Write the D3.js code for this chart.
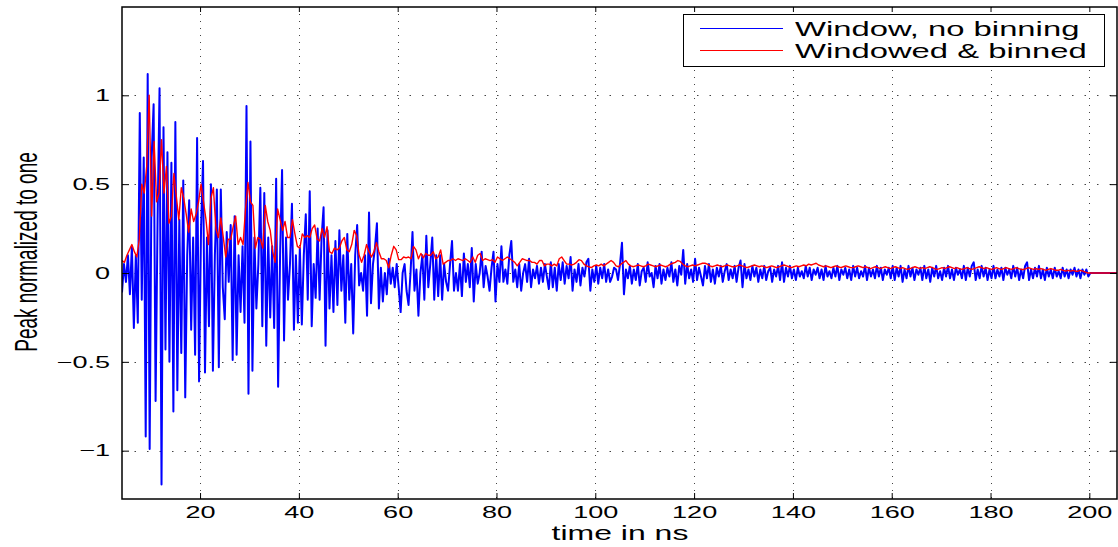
<!DOCTYPE html>
<html>
<head>
<meta charset="utf-8">
<script src="https://cdn.jsdelivr.net/npm/d3@7"></script>
<style>
  body { margin: 0; background: #fff; }
  svg { display: block; }
</style>
</head>
<body>
<div id="chart"></div>
<script>
// signal sampled every 0.4 ns (raw) and 0.5 ns (binned), both starting at 4.2 ns
var blueStart = 4.2, blueStep = 0.4;
var blueValues = [
  -0.11, 0.05, -0.05, 0.1, -0.12, 0.15, -0.31, 0.1, -0.28, 0.9,
  -0.15, 0.65, -0.92, 1.12, -0.99, 0.65, 0.95, -0.72, 0.3, 1.04,
  -1.19, 0.82, -0.43, 0.68, -0.5, 0.62, -0.78, 0.85, -0.66, 0.3,
  -0.45, 0.52, -0.7, 0.1, 0.41, -0.32, 0.2, -0.46, 0.76, -0.61,
  0.25, 0.63, -0.56, 0.2, -0.3, 0.5, -0.55, 0.1, 0.47, -0.53,
  0.47, -0.08, -0.26, 0.23, -0.05, 0.27, -0.49, 0.32, -0.46, 0.1,
  -0.22, 0.15, -0.28, 0.94, -0.68, 0.74, -0.55, 0.2, -0.2, 0.05,
  0.48, -0.3, 0.45, -0.41, 0.2, -0.25, 0.15, -0.31, 0.53, -0.64,
  0.1, 0.58, -0.38, 0.2, -0.15, 0.05, 0.39, -0.32, 0.1, -0.28,
  0.14, -0.29, 0.1, 0.33, -0.15, 0.46, -0.3, 0.05, -0.14, 0.25,
  -0.15, 0.2, 0.37, -0.41, 0.24, -0.2, 0.1, -0.22, 0.18, -0.18,
  0.24, -0.1, 0.1, -0.28, 0.22, -0.15, 0.05, -0.34, 0.1, 0.27,
  -0.07, 0.0, -0.1, 0.1, -0.24, 0.34, -0.17, 0.05, 0.14, 0.28,
  -0.2, 0.03, -0.16, 0.0, -0.12, 0.08, -0.06, 0.03, -0.08, 0.05,
  -0.08, -0.22, 0.0, 0.05, -0.1, -0.18, 0.0, 0.23, -0.1, 0.02,
  -0.24, 0.0, 0.1, -0.15, 0.21, -0.08, 0.05, 0.2, -0.15, 0.1,
  -0.13, 0.1, -0.15, 0.05, -0.05, -0.1, 0.05, 0.18, -0.1, 0.0,
  -0.1, 0.05, -0.13, 0.11, -0.05, 0.05, -0.08, 0.14, -0.16, 0.05,
  -0.06, 0.0, 0.12, -0.08, 0.04, -0.02, -0.1, 0.03, 0.12, -0.16,
  0.05, -0.05, 0.15, -0.05, 0.02, -0.06, 0.1, 0.18, -0.05, 0.02,
  -0.08, 0.05, -0.1, 0.0, 0.05, -0.05, 0.08, -0.08, 0.02, -0.03,
  0.04, -0.06, 0.03, -0.05, 0.05, -0.02, -0.09, 0.06, -0.08, 0.03,
  -0.1, 0.05, -0.04, 0.06, -0.06, 0.04, -0.03, 0.09, -0.1, 0.02,
  -0.05, 0.05, -0.07, 0.03, -0.02, 0.06, 0.08, -0.1, 0.02, -0.05,
  0.04, -0.06, 0.03, -0.03, 0.05, -0.05, 0.02, -0.05,
  -0.02, 0.03, 0.02, -0.04, 0.05, 0.17, -0.12, 0.02,
  -0.03, 0.04, -0.06, 0.02, -0.04, 0.05, -0.07, 0.01, 0.03, -0.05,
  0.06, -0.02, 0.0, -0.08, 0.04, -0.03, 0.05, -0.06, 0.02, -0.04,
  0.03, -0.02, 0.06, -0.05, 0.02, -0.07, 0.04, -0.01, 0.13, -0.06,
  0.05, -0.03, 0.02, -0.05, 0.08,
  -0.04, 0.03, -0.02, -0.07, 0.04, -0.03, 0.05, -0.05, 0.02, -0.06,
  0.03, -0.02, 0.04, -0.05, 0.01, 0.05, -0.04, 0.02, -0.03, 0.04,
  -0.05, 0.03, 0.07, -0.08, 0.05, -0.03, 0.02, -0.04, 0.04, -0.02,
  0.03, -0.05, 0.02, -0.03, 0.04, -0.04, 0.01, 0.03, -0.05, 0.02,
  -0.02, 0.04, -0.04, 0.06, -0.05, 0.03, -0.02, 0.04, -0.03, 0.02,
  -0.04, 0.03, -0.02, 0.01, -0.03, 0.04, -0.02, 0.03, -0.04, 0.02,
  -0.01, 0.03, -0.03, 0.02, -0.04, 0.04, -0.02, 0.01, -0.03, 0.03,
  -0.02, 0.04, -0.04, 0.02, -0.01, 0.03, -0.03, 0.02, -0.04, 0.04,
  -0.02, 0.03, -0.03, 0.01, -0.02, 0.04, -0.04, 0.03, -0.02, 0.02,
  -0.03, 0.04, -0.02, 0.03, -0.04, 0.02, -0.01, 0.03, -0.03, 0.04,
  -0.04, 0.03, -0.02, 0.04, -0.05, 0.02, -0.03, 0.04, -0.02, 0.03,
  -0.04, 0.02, -0.01, 0.03, -0.04, 0.04, -0.03, 0.02, -0.05, 0.03,
  -0.02, 0.04, -0.03, 0.01, -0.04, 0.03, -0.02, 0.04, -0.03, 0.02,
  -0.04, 0.03, -0.01, 0.02, -0.03, 0.04, -0.04, 0.03, -0.02, 0.04,
  0.06, -0.04, 0.02, -0.03, 0.04, -0.02, 0.03, -0.04, 0.02, -0.03,
  0.04, -0.03, 0.02, -0.02, 0.03, -0.04, 0.03, -0.01, 0.02, -0.03,
  0.04, -0.02, 0.03, -0.04, 0.02, -0.03, 0.04, 0.06, -0.04, 0.02,
  -0.03, 0.03, -0.02, 0.04, -0.03, 0.02, -0.04, 0.03, -0.02, 0.02,
  -0.03, 0.03, -0.02, 0.01, -0.03, 0.03, -0.02, 0.02, -0.03, 0.02,
  -0.01, 0.03, -0.02, 0.02, -0.03, 0.02, -0.01, 0.02, -0.02, 0.0,
  0, 0, 0, 0, 0, 0, 0, 0, 0, 0, 0, 0, 0, 0, 0
];

var redStart = 4.2, redStep = 0.5;
var redValues = [
  0.07, 0.06, 0.1, 0.13, 0.16, 0.12, 0.09, 0.19, 0.5, 0.45,
  0.6, 1.0, 0.32, 0.74, 0.4, 0.45, 0.75, 0.45, 0.6, 0.28,
  0.32, 0.56, 0.43, 0.3, 0.48, 0.42, 0.33, 0.23, 0.36, 0.29,
  0.33, 0.4, 0.5, 0.4, 0.3, 0.16, 0.42, 0.48, 0.25, 0.2,
  0.31, 0.2, 0.09, 0.19, 0.19, 0.26, 0.32, 0.16, 0.2, 0.16,
  0.36, 0.51, 0.4, 0.38, 0.14, 0.2, 0.19, 0.14, 0.38, 0.29,
  0.24, 0.12, 0.06, 0.36, 0.3, 0.24, 0.29, 0.2, 0.2, 0.3,
  0.22, 0.15, 0.14, 0.22, 0.2, 0.21, 0.2, 0.25, 0.27, 0.19,
  0.18, 0.25, 0.2, 0.26, 0.12, 0.11, 0.14, 0.13, 0.14, 0.18,
  0.2, 0.13, 0.12, 0.16, 0.24, 0.21, 0.1, 0.06, 0.1, 0.16,
  0.12, 0.09, 0.12, 0.17, 0.12, 0.08, 0.08, 0.07, 0.03, 0.1,
  0.15, 0.13, 0.075, 0.075, 0.09, 0.085, 0.09, 0.08, 0.15, 0.13,
  0.08, 0.11, 0.085, 0.11, 0.1, 0.1, 0.12, 0.08, 0.09, 0.13,
  0.05, 0.06, 0.07, 0.07, 0.08, 0.07, 0.08, 0.075, 0.07, 0.08,
  0.07, 0.06, 0.09, 0.06, 0.1, 0.11, 0.07, 0.08, 0.075, 0.07,
  0.075, 0.06, 0.09, 0.08, 0.07, 0.08, 0.09, 0.08, 0.07, 0.06,
  0.04, 0.06, 0.08, 0.075, 0.07, 0.07, 0.06, 0.06, 0.05, 0.07,
  0.07, 0.04, 0.05, 0.05, 0.04, 0.05, 0.04, 0.08, 0.09, 0.07,
  0.05, 0.05, 0.045, 0.05, 0.06, 0.075, 0.07, 0.05, 0.04, 0.035,
  0.03, 0.04, 0.045, 0.04, 0.05, 0.04, 0.05, 0.06, 0.07, 0.06,
  0.04, 0.035, 0.05, 0.06, 0.07, 0.05, 0.04, 0.035,
  0.04, 0.045, 0.04, 0.035, 0.04, 0.05, 0.045, 0.04, 0.035, 0.04,
  0.045, 0.04, 0.035, 0.04, 0.05, 0.055, 0.06, 0.07,
  0.065, 0.05, 0.04, 0.035, 0.04, 0.045, 0.04, 0.045, 0.05, 0.055,
  0.055, 0.05, 0.04, 0.035, 0.04, 0.045, 0.04, 0.035, 0.04, 0.045,
  0.04, 0.035, 0.035, 0.04, 0.045,
  0.04, 0.035, 0.03, 0.035, 0.04, 0.045, 0.04, 0.035, 0.04, 0.035,
  0.03, 0.035, 0.04, 0.035, 0.03, 0.035, 0.04, 0.045, 0.04, 0.035,
  0.03, 0.035, 0.04, 0.035, 0.04, 0.045, 0.04, 0.05, 0.045, 0.05,
  0.055, 0.045, 0.04, 0.035, 0.04, 0.035, 0.03, 0.035, 0.04, 0.035,
  0.03, 0.035, 0.04, 0.035, 0.03, 0.03, 0.035, 0.04, 0.035, 0.03,
  0.035, 0.03, 0.025, 0.03, 0.035, 0.03, 0.025, 0.03, 0.035, 0.03,
  0.025, 0.03, 0.035, 0.03, 0.025, 0.03, 0.025, 0.02, 0.025, 0.03,
  0.035, 0.03, 0.025, 0.03, 0.025, 0.03, 0.035, 0.03, 0.025, 0.02,
  0.025, 0.03, 0.025, 0.03, 0.035, 0.03, 0.025, 0.03, 0.025, 0.02,
  0.025, 0.03, 0.025, 0.02, 0.025, 0.03, 0.035, 0.03, 0.025, 0.03,
  0.025, 0.02, 0.025, 0.03, 0.025, 0.02, 0.025, 0.03, 0.025, 0.02,
  0.025, 0.03, 0.025, 0.02, 0.02, 0.025, 0.03, 0.025, 0.02, 0.025,
  0.02, 0.025, 0.02, 0.015, 0.02, 0.025, 0.02, 0.015, 0.015, 0.02,
  0.015, 0.01, 0.015, 0.01, 0.015, 0.01, 0.01, 0.015, 0.01, 0.005,
  0,
  0, 0, 0, 0, 0, 0, 0, 0, 0, 0, 0, 0, 0
];

var seriesNames = ['Window, no binning', 'Windowed & binned'];
var seriesColors = ['#0000ff', '#ff0000'];
var xTicks = [20, 40, 60, 80, 100, 120, 140, 160, 180, 200];
var yTicks = [-1, -0.5, 0, 0.5, 1];
var xDomain = [4.2, 205.6];
var yDomain = [-1.272, 1.497];

var WIDTH = 1118, HEIGHT = 547;
var LEFT = 122, RIGHT = 1117, TOP = 7, BOTTOM = 499;
var FONT = 'Liberation Sans, Arial, Helvetica, sans-serif';
var SX = 1.64; // the figure is stretched horizontally, text included

var svg = d3.select('#chart').append('svg')
    .attr('width', WIDTH)
    .attr('height', HEIGHT)
    .style('background', '#fff');

var x = d3.scaleLinear().domain(xDomain).range([LEFT, RIGHT]);
var y = d3.scaleLinear().domain(yDomain).range([BOTTOM, TOP]);

// dotted grid
var grid = svg.append('g');
grid.selectAll('line.gx')
    .data(xTicks)
    .enter()
    .append('line')
    .attr('x1', (d) => Math.round(x(d)) + 0.5)
    .attr('x2', (d) => Math.round(x(d)) + 0.5)
    .attr('y1', TOP)
    .attr('y2', BOTTOM)
    .style('stroke', '#444')
    .style('stroke-width', 1)
    .style('stroke-dasharray', '1,6');
grid.selectAll('line.gy')
    .data(yTicks)
    .enter()
    .append('line')
    .attr('x1', LEFT)
    .attr('x2', RIGHT)
    .attr('y1', (d) => Math.round(y(d)) + 0.5)
    .attr('y2', (d) => Math.round(y(d)) + 0.5)
    .style('stroke', '#444')
    .style('stroke-width', 1)
    .style('stroke-dasharray', '1.5,11');

svg.append('clipPath').attr('id', 'plotClip')
    .append('rect')
    .attr('x', LEFT).attr('y', TOP)
    .attr('width', RIGHT - LEFT).attr('height', BOTTOM - TOP);

var plot = svg.append('g').attr('clip-path', 'url(#plotClip)');

function seriesLine(start, step) {
    return d3.line()
        .x((d, i) => x(start + i * step))
        .y((d) => y(d));
}

plot.append('path')
    .datum(blueValues)
    .attr('d', seriesLine(blueStart, blueStep))
    .style('fill', 'none')
    .style('stroke', seriesColors[0])
    .style('stroke-width', 2)
    .style('stroke-linejoin', 'round');

plot.append('path')
    .datum(redValues)
    .attr('d', seriesLine(redStart, redStep))
    .style('fill', 'none')
    .style('stroke', seriesColors[1])
    .style('stroke-width', 1.4)
    .style('stroke-linejoin', 'round');

// axes (inward ticks on all four sides)
function styleAxis(g) {
    g.select('.domain').remove();
    g.selectAll('line').style('stroke', '#000');
    g.selectAll('text')
        .style('font-family', FONT)
        .style('font-size', '16.5px')
        .style('fill', '#000');
}

svg.append('g')
    .attr('transform', `translate(0,${BOTTOM})`)
    .call(d3.axisBottom(x).tickValues(xTicks).tickSizeInner(-6).tickSizeOuter(0)
        .tickPadding(7).tickFormat(d3.format('d')))
    .call(styleAxis)
    .selectAll('text')
    .attr('transform', `scale(${SX},1)`);

svg.append('g')
    .attr('transform', `translate(0,${TOP})`)
    .call(d3.axisTop(x).tickValues(xTicks).tickSizeInner(-5).tickSizeOuter(0).tickFormat(''))
    .call(styleAxis);

svg.append('g')
    .attr('transform', `translate(${LEFT},0)`)
    .call(d3.axisLeft(y).tickValues(yTicks).tickSizeInner(-7).tickSizeOuter(0)
        .tickFormat(d3.format('~g')))
    .call(styleAxis)
    .selectAll('text')
    .attr('x', 0)
    .attr('transform', `translate(-12,0) scale(${SX},1)`);

svg.append('g')
    .attr('transform', `translate(${RIGHT},0)`)
    .call(d3.axisRight(y).tickValues(yTicks).tickSizeInner(-7).tickSizeOuter(0).tickFormat(''))
    .call(styleAxis);

// frame
svg.append('rect')
    .attr('x', LEFT).attr('y', TOP)
    .attr('width', RIGHT - LEFT).attr('height', BOTTOM - TOP)
    .style('fill', 'none')
    .style('stroke', '#000')
    .style('stroke-width', 1.5);

// axis titles
svg.append('text')
    .attr('transform', `translate(620,540) scale(${SX},1)`)
    .style('text-anchor', 'middle')
    .style('font-family', FONT)
    .style('font-size', '19.5px')
    .text('time in ns');

svg.append('text')
    .attr('transform', `translate(37,252) scale(${SX},1) rotate(-90)`)
    .style('text-anchor', 'middle')
    .style('font-family', FONT)
    .style('font-size', '19px')
    .text('Peak normalized to one');

// legend
var legend = svg.append('g');
legend.append('rect')
    .attr('x', 683.5).attr('y', 14.5)
    .attr('width', 421).attr('height', 52)
    .style('fill', '#fff')
    .style('stroke', '#000')
    .style('stroke-width', 1);

var legendRows = legend.selectAll('g.row')
    .data(seriesNames)
    .enter()
    .append('g')
    .attr('transform', (d, i) => `translate(0,${28 + i * 22})`);

legendRows.append('line')
    .attr('x1', 700).attr('x2', 783)
    .attr('y1', 0.5).attr('y2', 0.5)
    .style('stroke', (d, i) => seriesColors[i])
    .style('stroke-width', 1);

legendRows.append('text')
    .attr('transform', `translate(795,7.5) scale(${SX},1)`)
    .style('font-family', FONT)
    .style('font-size', '20px')
    .text((d) => d);
</script>
</body>
</html>
